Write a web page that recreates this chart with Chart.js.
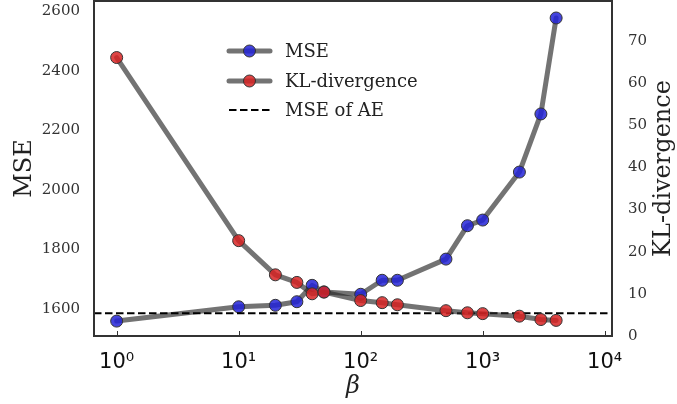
<!DOCTYPE html>
<html>
<head>
<meta charset="utf-8">
<script src="https://cdn.jsdelivr.net/npm/chart.js@4.4.0/dist/chart.umd.min.js"></script>
<style>
  html, body { margin: 0; padding: 0; background: #fff; }
  #wrap { width: 677px; height: 404px; }
</style>
</head>
<body>
<div id="wrap"><canvas id="betaChart" width="677" height="404"></canvas></div>
<script>
// values
const betas = [1, 10, 20, 30, 40, 50, 100, 150, 200, 500, 750, 1000, 2000, 3000, 4000];
const mseValues = [1560, 1608, 1613, 1625, 1680, 1658, 1650, 1697, 1697, 1768, 1880, 1899, 2060, 2255, 2577];
const klValues = [66, 22.6, 14.5, 12.7, 10.0, 10.4, 8.4, 7.9, 7.4, 6.0, 5.5, 5.3, 4.7, 3.9, 3.7];
const aeMse = 1586;
const xTicks = [1, 10, 100, 1000, 10000];
const mseTicks = [1600, 1800, 2000, 2200, 2400, 2600];
const klTicks = [0, 10, 20, 30, 40, 50, 60, 70];

const xMin = 0.652, xMax = 11480;
const sup = ["⁰", "¹", "²", "³", "⁴"];

const lineGray = "rgba(40,40,40,0.65)";
const serif = "'DejaVu Serif', serif";

const noPad = (s) => { s.paddingTop = 0; s.paddingBottom = 0; s.paddingLeft = 0; s.paddingRight = 0; };

// frame, inward x ticks, right title and the in-plot legend
const framePlugin = {
  id: "frame",
  afterDraw(chart) {
    const { ctx, chartArea: a, scales } = chart;
    ctx.save();
    ctx.strokeStyle = "#333";
    ctx.lineWidth = 2;
    ctx.strokeRect(a.left, a.top, a.right - a.left, a.bottom - a.top);
    ctx.lineWidth = 1;
    xTicks.forEach((v) => {
      const px = Math.round(scales.x.getPixelForValue(v)) + 0.5;
      if (px < a.left || px > a.right) return;
      ctx.beginPath();
      ctx.moveTo(px, a.bottom);
      ctx.lineTo(px, a.bottom - 5);
      ctx.stroke();
    });

    // right axis title, reading bottom to top
    ctx.save();
    ctx.translate(664, (a.top + a.bottom) / 2);
    ctx.rotate(-Math.PI / 2);
    ctx.fillStyle = "#222";
    ctx.font = "24px " + serif;
    ctx.textAlign = "center";
    ctx.textBaseline = "middle";
    ctx.fillText("KL-divergence", 0, 0);
    ctx.restore();

    // legend
    const rows = [51, 81, 110];
    const x0 = 229, x1 = 270, tx = 285;
    chart.data.datasets.forEach((ds, i) => {
      const y = rows[i];
      ctx.beginPath();
      ctx.moveTo(x0, y);
      ctx.lineTo(x1, y);
      ctx.strokeStyle = ds.borderColor;
      ctx.lineWidth = ds.borderWidth;
      ctx.lineCap = ds.borderDash ? "butt" : "round";
      ctx.setLineDash(ds.borderDash || []);
      ctx.stroke();
      ctx.setLineDash([]);
      if (ds.pointRadius) {
        ctx.beginPath();
        ctx.arc((x0 + x1) / 2, y, ds.pointRadius, 0, Math.PI * 2);
        ctx.fillStyle = ds.pointBackgroundColor;
        ctx.fill();
        ctx.lineWidth = ds.pointBorderWidth;
        ctx.strokeStyle = ds.pointBorderColor;
        ctx.stroke();
      }
      ctx.fillStyle = "#222";
      ctx.font = "18px " + serif;
      ctx.textBaseline = "middle";
      ctx.textAlign = "left";
      ctx.fillText(ds.label, tx, y + 1);
    });
    ctx.restore();
  }
};

new Chart(document.getElementById("betaChart"), {
  type: "line",
  data: {
    datasets: [
      {
        label: "MSE",
        data: betas.map((b, i) => ({ x: b, y: mseValues[i] })),
        yAxisID: "y",
        borderColor: lineGray,
        borderWidth: 5,
        borderCapStyle: "round",
        borderJoinStyle: "round",
        pointRadius: 6,
        pointBackgroundColor: "rgba(35,35,215,0.85)",
        pointBorderColor: "#333",
        pointBorderWidth: 1,
        order: 3
      },
      {
        label: "KL-divergence",
        data: betas.map((b, i) => ({ x: b, y: klValues[i] })),
        yAxisID: "y1",
        borderColor: lineGray,
        borderWidth: 5,
        borderCapStyle: "round",
        borderJoinStyle: "round",
        pointRadius: 6,
        pointBackgroundColor: "rgba(215,35,35,0.85)",
        pointBorderColor: "#333",
        pointBorderWidth: 1,
        order: 1
      },
      {
        label: "MSE of AE",
        data: [{ x: xMin, y: aeMse }, { x: xMax, y: aeMse }],
        yAxisID: "y",
        borderColor: "#000",
        borderWidth: 2,
        borderDash: [7.5, 3.5],
        pointRadius: 0,
        order: 2
      }
    ]
  },
  options: {
    responsive: false,
    animation: false,
    layout: { autoPadding: false, padding: { top: 1, left: 0, right: 0, bottom: 0 } },
    plugins: { legend: { display: false }, tooltip: { enabled: false } },
    scales: {
      x: {
        type: "logarithmic",
        min: xMin,
        max: xMax,
        afterBuildTicks: (s) => { s.ticks = xTicks.map((v) => ({ value: v })); },
        afterFit: (s) => { s.height = 68; noPad(s); },
        grid: { display: false },
        border: { display: false },
        ticks: {
          autoSkip: false,
          maxRotation: 0,
          padding: 6,
          color: "#111",
          font: { family: "'DejaVu Sans', sans-serif", size: 21 },
          callback: (v) => "10" + sup[Math.round(Math.log10(v))]
        },
        title: {
          display: true,
          text: "β",
          color: "#222",
          font: { family: serif, size: 24, style: "italic" },
          padding: { bottom: 3 }
        }
      },
      y: {
        position: "left",
        min: 1510,
        max: 2634,
        afterBuildTicks: (s) => { s.ticks = mseTicks.map((v) => ({ value: v })); },
        afterFit: (s) => { s.width = 94; noPad(s); },
        grid: { display: false, drawTicks: false },
        border: { display: false },
        ticks: {
          padding: 14,
          color: "#333",
          font: { family: serif, size: 15 },
          callback: (v) => String(v)
        },
        title: {
          display: true,
          text: "MSE",
          color: "#222",
          font: { family: serif, size: 24 },
          padding: { top: 10 }
        }
      },
      y1: {
        position: "right",
        min: 0,
        max: 79.4,
        afterBuildTicks: (s) => { s.ticks = klTicks.map((v) => ({ value: v })); },
        afterFit: (s) => { s.width = 65; noPad(s); },
        grid: { display: false, drawTicks: false },
        border: { display: false },
        ticks: {
          padding: 16,
          color: "#333",
          font: { family: serif, size: 15 },
          callback: (v) => String(v)
        }
      }
    }
  },
  plugins: [framePlugin]
});
</script>
</body>
</html>
